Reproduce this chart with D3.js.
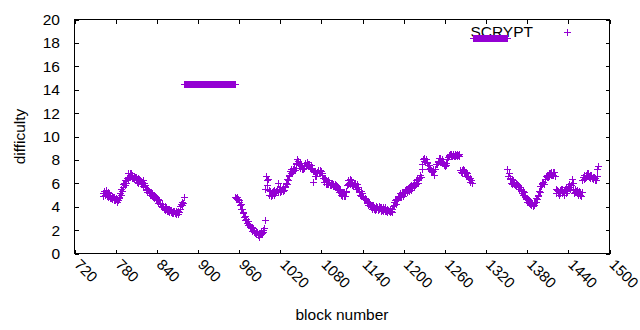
<!DOCTYPE html>
<html>
<head>
<meta charset="utf-8">
<script src="https://cdn.jsdelivr.net/npm/d3@7"></script>
<style>
  body { margin: 0; background: #fff; }
  text { font-family: "Liberation Sans", Arial, sans-serif; font-size: 15.5px; fill: #000; }
</style>
</head>
<body>
<div id="chart"></div>
<script>
const W = 640, H = 330
const PLOT = { LEFT: 74.5, RIGHT: 609.5, TOP: 19.5, BOTTOM: 253.5 }
const COLOR = "#9400d3"

const seriesName = "SCRYPT"
const xTicks = [720, 780, 840, 900, 960, 1020, 1080, 1140, 1200, 1260, 1320, 1380, 1440, 1500]
const yTicks = [0, 2, 4, 6, 8, 10, 12, 14, 16, 18, 20]

// difficulty per block, in runs of consecutive blocks; runStarts = first block of each run
const runStarts = [762, 881, 955, 1301, 1352]

const runA = [
  5.1, 4.9, 5.3, 5.0, 5.4, 5.1, 4.9, 5.2,
  4.8, 5.1, 4.7, 5.0, 4.7, 4.9, 4.6, 4.8,
  4.5, 4.8, 4.5, 4.7, 4.4, 4.6, 4.5, 4.7,
  4.8, 5.1, 5.0, 5.5, 5.3, 5.9, 5.6, 6.0,
  5.8, 6.2, 6.0, 6.4, 6.3, 6.8, 6.5, 6.8,
  6.5, 6.8, 6.4, 6.7, 6.4, 6.6, 6.3, 6.5,
  6.2, 6.5, 6.1, 6.4, 6.0, 6.3, 6.2, 5.9,
  6.1, 5.9, 6.2, 5.7, 6.0, 5.6, 5.8, 5.4,
  5.5, 5.2, 5.4, 5.1, 5.3, 5.0, 5.2, 4.9,
  5.1, 4.8, 5.0, 4.7, 4.9, 4.6, 4.8, 4.5,
  4.6, 4.3, 4.5, 4.2, 4.3, 4.0, 4.2, 3.9,
  4.0, 3.8, 4.0, 3.7, 3.9, 3.6, 3.8, 3.6,
  3.8, 3.5, 3.7, 3.5, 3.7, 3.4, 3.6, 3.4,
  3.6, 3.4, 3.6, 3.3, 3.5, 3.3, 3.6, 3.5,
  4.0, 3.8, 4.2, 4.1, 4.4, 4.3, 4.8
]

const runFlat1 = [
  14.43, 14.43, 14.43, 14.43, 14.43, 14.43, 14.43, 14.43, 14.43, 14.43,
  14.43, 14.43, 14.43, 14.43, 14.43, 14.43, 14.43, 14.43, 14.43, 14.43,
  14.43, 14.43, 14.43, 14.43, 14.43, 14.43, 14.43, 14.43, 14.43, 14.43,
  14.43, 14.43, 14.43, 14.43, 14.43, 14.43, 14.43, 14.43, 14.43, 14.43,
  14.43, 14.43, 14.43, 14.43, 14.43, 14.43, 14.43, 14.43, 14.43, 14.43,
  14.43, 14.43, 14.43, 14.43, 14.43, 14.43, 14.43, 14.43, 14.43, 14.43,
  14.43, 14.43, 14.43, 14.43, 14.43, 14.43, 14.43, 14.43, 14.43, 14.43,
  14.43, 14.43, 14.43, 14.43
]

const runB = [
  4.8, 4.7, 4.8, 4.6, 4.6, 4.4, 4.5, 4.1, 4.2, 3.8,
  3.8, 3.4, 3.5, 3.1, 3.2, 2.8, 2.9, 2.6, 2.7, 2.4,
  2.5, 2.2, 2.3, 2.1, 2.2, 1.9, 2.1, 1.8, 2.0, 1.7,
  1.9, 1.7, 1.8, 1.5, 1.7, 1.4, 1.7, 1.6, 1.9, 1.7,
  2.0, 1.8, 2.1, 2.8, 5.5, 6.6, 6.2, 5.8, 6.3, 5.4,
  5.0, 5.3, 4.9, 5.2, 5.0, 5.3, 5.0, 5.4, 5.1, 5.3,
  5.2, 5.5, 6.0, 5.2, 5.5, 5.2, 5.6, 5.3, 5.5, 5.3,
  5.6, 5.4, 5.7, 5.6, 6.0, 5.9, 6.3, 6.2, 6.7, 6.6,
  7.0, 6.8, 7.2, 6.9, 7.2, 7.0, 7.3, 7.1, 7.6, 7.7,
  8.0, 7.7, 7.9, 7.5, 7.7, 7.3, 7.5, 7.2, 7.4, 7.2,
  7.5, 7.3, 7.7, 7.4, 7.8, 7.5, 7.6, 7.4, 7.6, 7.3,
  7.5, 7.2, 7.3, 7.0, 6.1, 7.0, 6.6, 6.9, 6.6, 6.9,
  6.8, 7.1, 6.8, 7.1, 6.8, 7.0, 6.7, 6.8, 6.4, 6.4,
  6.1, 6.3, 5.9, 6.2, 5.9, 6.2, 5.9, 6.1, 5.8, 6.0,
  5.8, 6.0, 5.7, 5.9, 5.7, 5.9, 5.6, 5.8, 5.6, 5.7,
  5.4, 5.5, 5.2, 5.3, 5.0, 5.2, 4.9, 5.2, 4.9, 5.2,
  4.9, 5.2, 5.3, 5.8, 5.9, 6.2, 6.0, 6.3, 5.9, 6.2,
  5.8, 6.1, 5.7, 6.0, 5.7, 6.0, 5.6, 5.9, 5.5, 5.6,
  5.2, 5.3, 5.0, 5.3, 4.9, 5.1, 4.8, 4.9, 4.6, 4.7,
  4.5, 4.6, 4.3, 4.4, 4.1, 4.3, 4.0, 4.2, 3.9, 4.1,
  3.8, 4.1, 3.8, 3.9, 3.7, 4.0, 3.8, 3.9, 3.7, 4.0,
  3.8, 3.9, 3.6, 3.9, 3.7, 3.9, 3.6, 3.8, 3.6, 3.9,
  3.6, 3.8, 3.5, 3.7, 3.6, 3.5, 3.8, 3.6, 3.5, 3.8,
  4.0, 4.4, 4.1, 4.5, 4.2, 4.6, 4.5, 4.9, 4.7, 4.9,
  4.8, 5.1, 4.8, 5.2, 4.9, 5.2, 5.1, 5.4, 5.1, 5.5,
  5.2, 5.5, 5.4, 5.6, 5.3, 5.7, 5.4, 5.8, 5.6, 5.8,
  5.7, 6.0, 5.8, 6.2, 5.9, 6.3, 6.0, 6.2, 6.4, 6.5,
  6.7, 6.5, 7.2, 7.6, 8.0, 7.9, 8.1, 7.8, 8.0, 7.7,
  7.8, 7.5, 7.5, 7.2, 7.3, 7.0, 7.1, 6.9, 7.2, 7.0,
  6.7, 7.2, 7.2, 7.6, 7.6, 7.9, 7.8, 8.1, 7.8, 8.1,
  7.8, 8.0, 7.7, 7.8, 7.5, 7.6, 7.4, 7.7, 7.5, 8.0,
  8.2, 8.4, 8.3, 8.5, 8.3, 8.5, 8.3, 8.4, 8.5, 8.3,
  8.5, 8.3, 8.4, 8.5, 8.3, 8.4, 8.5, 8.3, 7.1, 6.9,
  7.1, 6.8, 7.2, 6.9, 7.1, 6.8, 6.9, 6.6, 6.8, 6.5,
  6.6, 6.3, 6.4, 6.1, 6.2, 6.0
]

const runFlat2 = [
  18.34, 18.34, 18.34, 18.34, 18.34, 18.34, 18.34, 18.34, 18.34, 18.34,
  18.34, 18.34, 18.34, 18.34, 18.34, 18.34, 18.34, 18.34, 18.34, 18.34,
  18.34, 18.34, 18.34, 18.34, 18.34, 18.34, 18.34, 18.34, 18.34, 18.34,
  18.34, 18.34, 18.34, 18.34, 18.34, 18.34, 18.34, 18.34, 18.34, 18.34,
  18.34, 18.34, 18.34, 18.34, 18.34, 18.34, 18.34, 18.34, 18.34, 18.34,
  18.34
]

const runC = [
  7.2, 6.6, 6.8, 6.3, 6.4, 6.0, 6.3, 5.9, 6.2, 5.9,
  6.1, 5.8, 6.0, 5.7, 5.9, 5.6, 5.8, 5.5, 5.6, 5.3,
  5.5, 5.1, 5.3, 5.0, 5.2, 4.8, 4.9, 4.6, 4.7, 4.4,
  4.6, 4.3, 4.5, 4.2, 4.4, 4.1, 4.3, 4.0, 4.3, 4.1,
  4.4, 4.4, 4.7, 4.6, 5.0, 4.9, 5.3, 5.2, 5.7, 5.7,
  6.0, 5.9, 6.1, 5.9, 6.3, 6.3, 6.6, 6.5, 6.7, 6.5,
  6.8, 6.6, 6.8, 6.7, 6.9, 6.7, 6.9, 6.7, 6.9, 6.6,
  5.5, 5.1, 5.4, 5.1, 5.3, 5.0, 5.4, 5.1, 5.5, 5.1,
  5.5, 5.2, 5.4, 5.0, 5.4, 5.1, 5.6, 5.3, 5.7, 5.6,
  5.9, 5.5, 5.8, 5.8, 6.3, 6.0, 5.4, 5.1, 5.5, 5.2,
  5.3, 5.1, 5.4, 5.0, 5.3, 5.0, 5.2, 4.9, 5.2, 6.2,
  6.5, 6.3, 6.7, 6.4, 6.7, 6.5, 6.8, 6.6, 6.8, 6.5,
  6.7, 6.4, 6.7, 6.4, 6.5, 6.3, 6.5, 6.2, 6.4, 6.2,
  6.6, 7.2, 7.4
]

const runs = [runA, runFlat1, runB, runFlat2, runC]
const data = []
runs.forEach((vals, i) => {
  vals.forEach((v, j) => data.push({ block: runStarts[i] + j, difficulty: v }))
})

const svg = d3.select("#chart")
  .append("svg")
    .attr("width", W)
    .attr("height", H)

const x = d3.scaleLinear()
  .domain([720, 1500])
  .range([PLOT.LEFT, PLOT.RIGHT])

const y = d3.scaleLinear()
  .domain([0, 20])
  .range([PLOT.BOTTOM, PLOT.TOP])

// ticks point inward on all four sides (gnuplot style mirror)
const tick = 4
svg.append("g")
  .attr("transform", `translate(0,${PLOT.BOTTOM})`)
  .call(d3.axisBottom(x).tickValues(xTicks).tickSizeInner(-tick).tickSizeOuter(0).tickFormat(""))
svg.append("g")
  .attr("transform", `translate(0,${PLOT.TOP})`)
  .call(d3.axisTop(x).tickValues(xTicks).tickSizeInner(-tick).tickSizeOuter(0).tickFormat(""))
svg.append("g")
  .attr("transform", `translate(${PLOT.LEFT},0)`)
  .call(d3.axisLeft(y).tickValues(yTicks).tickSizeInner(-tick).tickSizeOuter(0).tickFormat(""))
svg.append("g")
  .attr("transform", `translate(${PLOT.RIGHT},0)`)
  .call(d3.axisRight(y).tickValues(yTicks).tickSizeInner(-tick).tickSizeOuter(0).tickFormat(""))

svg.selectAll(".domain").remove()
svg.selectAll(".tick line").attr("stroke", "#000").attr("shape-rendering", "crispEdges")

svg.append("rect")
  .attr("x", PLOT.LEFT)
  .attr("y", PLOT.TOP)
  .attr("width", PLOT.RIGHT - PLOT.LEFT)
  .attr("height", PLOT.BOTTOM - PLOT.TOP)
  .attr("fill", "none")
  .attr("stroke", "#000")
  .attr("shape-rendering", "crispEdges")

// tick labels
svg.append("g").selectAll("text")
  .data(yTicks)
  .enter().append("text")
    .attr("x", 60)
    .attr("y", d => y(d))
    .attr("dy", "0.35em")
    .attr("text-anchor", "end")
    .text(d => d)

svg.append("g").selectAll("text")
  .data(xTicks)
  .enter().append("text")
    .attr("transform", d => `translate(${x(d) - 1},${PLOT.BOTTOM + 12}) rotate(45)`)
    .attr("text-anchor", "start")
    .style("font-size", "15px")
    .text(d => d)

svg.append("text")
  .attr("x", (PLOT.LEFT + PLOT.RIGHT) / 2)
  .attr("y", 320)
  .attr("text-anchor", "middle")
  .text("block number")

svg.append("text")
  .attr("transform", `translate(25,${(PLOT.TOP + PLOT.BOTTOM) / 2}) rotate(-90)`)
  .attr("text-anchor", "middle")
  .text("difficulty")

// key
svg.append("text")
  .attr("x", 533)
  .attr("y", 37)
  .attr("text-anchor", "end")
  .text(seriesName)

const plus = (cx, cy) => `M${cx - 3.5},${cy}h7M${cx},${cy - 3.5}v7`
const px = v => Math.round(v - 0.5) + 0.5

svg.append("path")
  .attr("d", plus(567.5, 32.5))
  .attr("stroke", COLOR)
  .attr("fill", "none")

svg.append("g")
  .selectAll("path")
  .data(data)
  .enter().append("path")
    .attr("d", d => plus(px(x(d.block)), px(y(d.difficulty))))
    .attr("stroke", COLOR)
    .attr("stroke-width", 1)
    .attr("fill", "none")
    .attr("shape-rendering", "crispEdges")
</script>
</body>
</html>
